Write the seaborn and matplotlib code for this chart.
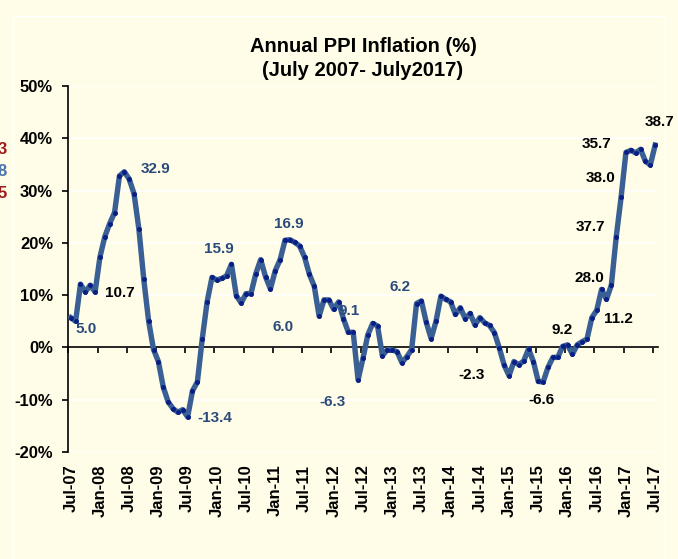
import numpy as np
import pandas as pd
import seaborn as sns
import matplotlib.pyplot as plt
from matplotlib.patches import Rectangle
from matplotlib.ticker import FuncFormatter

# monthly annual PPI inflation, Jul-07 .. Jul-17 (%)
ppi = [5.7, 5.0, 12.1, 10.6, 11.9, 10.6, 17.3, 21.2, 23.7, 25.8, 32.8, 33.6,
       32.2, 29.4, 22.6, 13.0, 5.0, -0.4, -2.7, -7.6, -10.4, -11.7, -12.4, -11.9,
       -13.3, -8.3, -6.6, 1.6, 8.7, 13.4, 12.9, 13.2, 13.7, 15.9, 9.9, 8.5,
       10.3, 10.3, 14.1, 16.8, 13.5, 11.2, 14.7, 16.8, 20.5, 20.6, 20.1, 19.4,
       17.3, 14.0, 11.7, 6.0, 9.1, 9.1, 7.3, 8.7, 5.5, 2.9, 2.9, -6.2,
       -2.1, 2.4, 4.6, 4.1, -1.6, -0.4, -0.5, -0.8, -2.9, -1.8, -0.4, 8.4,
       8.9, 4.8, 1.7, 5.0, 9.8, 9.2, 8.7, 6.3, 7.6, 5.5, 6.5, 4.3,
       5.7, 4.7, 4.2, 2.8, -0.1, -3.4, -5.4, -2.7, -3.3, -2.6, -0.3, -2.7,
       -6.5, -6.6, -3.8, -1.9, -1.9, 0.2, 0.5, -1.3, 0.5, 1.1, 1.6, 5.7,
       7.1, 11.1, 9.2, 11.9, 21.1, 28.7, 37.3, 37.7, 37.2, 37.9, 35.6, 34.9,
       38.7]

tick_labels = ["Jul-07", "Jan-08", "Jul-08", "Jan-09", "Jul-09", "Jan-10", "Jul-10",
               "Jan-11", "Jul-11", "Jan-12", "Jul-12", "Jan-13", "Jul-13", "Jan-14",
               "Jul-14", "Jan-15", "Jul-15", "Jan-16", "Jul-16", "Jan-17", "Jul-17"]

note_text = ["5.0", "10.7", "32.9", "15.9", "-13.4", "16.9", "6.0", "9.1", "-6.3", "6.2",
             "-2.3", "-6.6", "9.2", "28.0", "11.2", "37.7", "38.0", "35.7", "38.7"]
note_blue = [True, False, True, True, True, True, True, True, True, True,
             False, False, False, False, False, False, False, False, False]

# label placement (month index, %)
note_x = [3.1, 10.05, 17.45, 30.4, 29.5, 44.8, 43.55, 57.1, 53.85, 67.7,
          82.25, 96.7, 100.9, 106.4, 112.4, 106.8, 108.7, 107.9, 120.8]
note_y = [3.6, 10.5, 34.2, 18.9, -13.5, 23.7, 3.9, 6.9, -10.4, 11.6,
          -5.2, -10.1, 3.25, 13.3, 5.35, 23.0, 32.4, 38.95, 43.1]

bg = '#FFFDE7'
plt.rcParams['font.family'] = ['Liberation Sans', 'DejaVu Sans']
plt.rcParams['font.weight'] = 'bold'

df = pd.DataFrame({'m': np.arange(len(ppi)), 'ppi': ppi})

fig = plt.figure(figsize=(6.78, 5.59), dpi=100, facecolor=bg)
ax = fig.add_axes([68.3/678, 1-452/559, (657.6-68.3)/678, 366/559])
ax.set_facecolor(bg)

sns.lineplot(data=df, x='m', y='ppi', ax=ax, color='#3A5F94', linewidth=3.9,
             marker='o', markersize=2.8, markerfacecolor='#0A1F86',
             markeredgecolor='#0A1F86', zorder=3)

ax.set_xlim(-0.5, 120.5)
ax.set_ylim(-20, 50)
ax.set_yticks(np.arange(-20, 51, 10))
ax.yaxis.set_major_formatter(FuncFormatter(lambda v, p: f"{v:.0f}%"))
ax.yaxis.grid(True, color='#FFFFFF', lw=1.2, zorder=0)
ax.set_xlabel('')
ax.set_ylabel('')
ax.tick_params(axis='y', direction='out', length=4, width=1.2, pad=7, labelsize=12)

for s in ['top', 'right']:
    ax.spines[s].set_visible(False)
ax.spines['left'].set_color('black')
ax.spines['left'].set_linewidth(1.2)
ax.spines['bottom'].set_position(('data', 0))
ax.spines['bottom'].set_color('black')
ax.spines['bottom'].set_linewidth(1.2)
ax.set_xticks(np.arange(-0.5, 121, 6))
ax.tick_params(axis='x', direction='out', length=4, width=1.2, labelbottom=False)

sec = ax.secondary_xaxis(0)
sec.set_xticks(np.arange(0, 121, 6), labels=tick_labels, rotation=90)
sec.tick_params(length=0, pad=9, labelsize=12)
sec.spines['bottom'].set_visible(False)

for t, x, y, b in zip(note_text, note_x, note_y, note_blue):
    ax.text(x, y, t, ha='center', va='center', fontsize=11, fontweight='bold',
            color='#2B4A7C' if b else 'black', clip_on=False)

fig.text(363/678, 1-58.5/559, "Annual PPI Inflation (%)\n(July 2007- July2017)",
         ha='center', va='center', fontsize=14.5, fontweight='bold', linespacing=1.4)

# leftovers of a neighbouring chart, cut at the edge
fig.text(6.8/678, 1-149.5/559, "3", ha='right', va='center', fontsize=12, color='#9B1C1C')
fig.text(6.8/678, 1-171.7/559, "8", ha='right', va='center', fontsize=12, color='#4A74AE')
fig.text(6.8/678, 1-193.5/559, "5", ha='right', va='center', fontsize=12, color='#9B1C1C')

fig.patches.append(Rectangle((13/678, -0.1), (665-13)/678, 1.1-15.6/559,
                             transform=fig.transFigure, fill=False,
                             edgecolor='#FFFFFF', lw=1))

fig.savefig('out.png', dpi=100, facecolor=bg)
